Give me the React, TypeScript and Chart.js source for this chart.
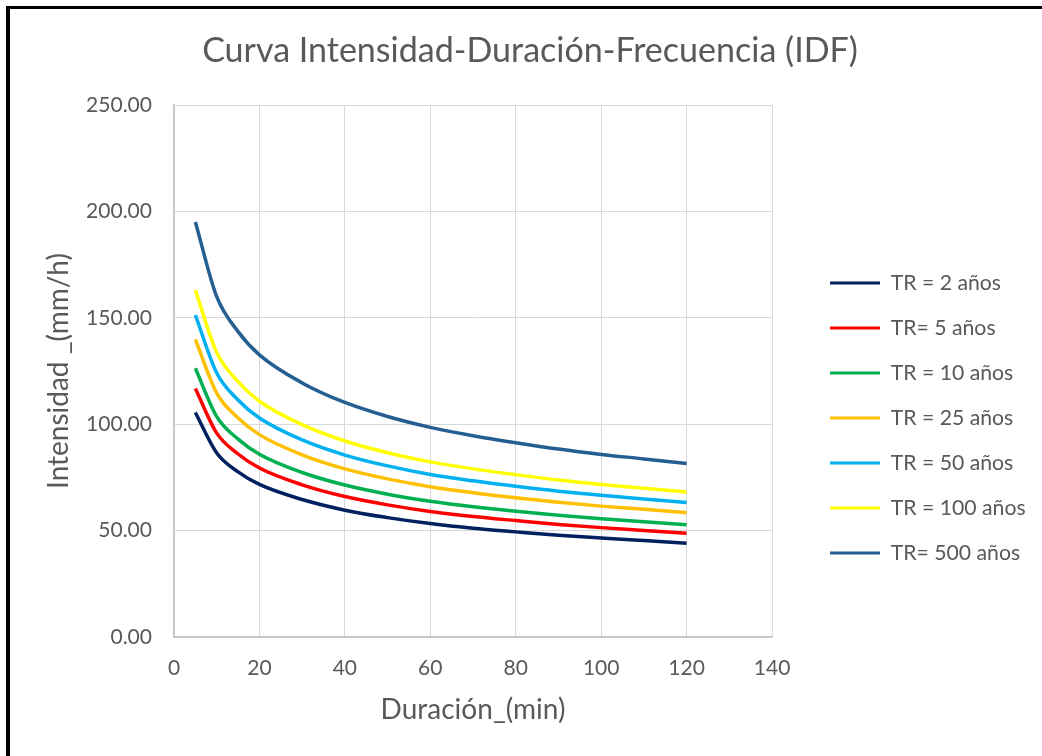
import React, { useEffect, useRef } from 'react';
import { Chart, registerables } from 'chart.js';

Chart.register(...registerables);

// ---- data ----
const durations = [5, 10, 15, 20, 30, 40, 50, 60, 70, 80, 90, 100, 110, 120];
const tr2 = [105.5, 86.5, 77.6, 71.7, 64.6, 59.6, 56.1, 53.3, 51.1, 49.4, 47.8, 46.5, 45.3, 44.1];
const tr5 = [116.8, 95.8, 86.0, 79.4, 71.5, 66.0, 62.1, 59.0, 56.6, 54.7, 52.9, 51.4, 50.1, 48.8];
const tr10 = [126.3, 103.6, 93.0, 85.9, 77.3, 71.4, 67.1, 63.8, 61.2, 59.1, 57.2, 55.6, 54.2, 52.8];
const tr25 = [139.8, 114.6, 102.9, 95.1, 85.6, 79.0, 74.3, 70.6, 67.8, 65.4, 63.3, 61.5, 60.0, 58.4];
const tr50 = [151.3, 124.1, 111.4, 102.9, 92.6, 85.5, 80.4, 76.4, 73.4, 70.8, 68.5, 66.6, 64.9, 63.2];
const tr100 = [163.0, 133.7, 120.0, 110.8, 99.8, 92.1, 86.6, 82.3, 79.0, 76.3, 73.8, 71.7, 69.9, 68.1];
const tr500 = [195.0, 159.9, 143.5, 132.6, 119.4, 110.2, 103.6, 98.5, 94.6, 91.3, 88.3, 85.8, 83.7, 81.5];

const seriesValues = [tr2, tr5, tr10, tr25, tr50, tr100, tr500];
const seriesLabels = ['TR = 2 años', 'TR= 5 años', 'TR = 10 años', 'TR = 25 años', 'TR = 50 años', 'TR = 100 años', 'TR= 500 años'];
const seriesColors = ['#002060', '#FF0000', '#00B050', '#FFC000', '#00B0F0', '#FFFF00', '#255E91'];

const chartTitle = 'Curva Intensidad-Duración-Frecuencia (IDF)';
const xTitle = 'Duración_(min)';
const yTitle = 'Intensidad _(mm/h)';
const xMin = 0, xMax = 140, xStep = 20;
const yMin = 0, yMax = 250, yStep = 50;

// ---- style ----
const W = 1042, H = 756;
const FAMILY = 'Lato';
const TEXT = '#595959';

function fitSize(text: string, target: number): number {
  const ctx = document.createElement('canvas').getContext('2d')!;
  ctx.font = `100px ${FAMILY}`;
  return (100 * target) / ctx.measureText(text).width;
}

const framePlugin = {
  id: 'frame',
  beforeDraw(chart: any) {
    const ctx = chart.ctx;
    ctx.save();
    ctx.fillStyle = '#ffffff';
    ctx.fillRect(0, 0, W, H);
    ctx.fillStyle = '#000000';
    ctx.fillRect(6, 6, 4, H);
    ctx.fillRect(6, 6, W, 3);
    ctx.restore();
  },
};

export default function App() {
  const ref = useRef<HTMLCanvasElement>(null);

  useEffect(() => {
    if (!ref.current) return;
    const fsTitle = fitSize(chartTitle, 656);
    const fsTick = fitSize('250.00', 66);
    const fsLeg = fitSize('TR = 100 años', 135);
    const fsXT = fitSize(xTitle, 185);
    const fsYT = fitSize(yTitle, 236);

    const plotL = 174, plotR = 772, plotT = 105, plotB = 637;
    const legPad = 45 - fsLeg;
    const boxW = 50;
    const legLeft = 830 - legPad;
    const legW = legPad + boxW + fsLeg / 2 + 135 + 10;
    const padR = W - legLeft - legW;
    const padL = 2 * 530 - W + padR;
    const titleTop = 51 - fsTitle * 0.6;

    const chart = new Chart(ref.current, {
      type: 'line',
      data: {
        datasets: seriesValues.map((vals, i) => ({
          label: seriesLabels[i],
          data: durations.map((d, j) => ({ x: d, y: vals[j] })),
          borderColor: seriesColors[i],
          backgroundColor: seriesColors[i],
          borderWidth: 3.5,
          pointRadius: 0,
          cubicInterpolationMode: 'monotone',
          fill: false,
        })),
      },
      options: {
        responsive: false,
        animation: false,
        layout: { padding: { left: padL, right: padR, top: 0, bottom: 0 } },
        plugins: {
          title: {
            display: true,
            text: chartTitle,
            color: TEXT,
            font: { family: FAMILY, size: fsTitle, weight: 'normal' },
            padding: { top: titleTop, bottom: plotT - titleTop - fsTitle * 1.2 },
          },
          legend: {
            position: 'right',
            align: 'center',
            maxWidth: 400,
            title: { display: true, text: '', font: { size: 10 }, padding: { top: 68, bottom: 0 } },
            labels: {
              boxWidth: boxW,
              boxHeight: 3,
              padding: legPad,
              color: TEXT,
              font: { family: FAMILY, size: fsLeg },
              generateLabels: (c: any) =>
                Chart.defaults.plugins.legend.labels.generateLabels(c).map((it: any) => ({
                  ...it,
                  lineWidth: 0,
                  fillStyle: it.strokeStyle,
                })),
            },
          },
          tooltip: { enabled: false },
        },
        scales: {
          x: {
            type: 'linear',
            min: xMin,
            max: xMax,
            ticks: { stepSize: xStep, color: TEXT, font: { family: FAMILY, size: fsTick }, padding: 668 - plotB - fsTick * 0.6 },
            grid: { color: '#d9d9d9', lineWidth: 1, drawTicks: false },
            border: { color: '#c4c4c4', width: 1.5 },
            title: {
              display: true,
              text: xTitle,
              color: TEXT,
              font: { family: FAMILY, size: fsXT },
              padding: { top: 0, bottom: H - 710 - fsXT * 0.6 },
            },
            afterFit: (s: any) => { s.height = H - plotB; },
          },
          y: {
            type: 'linear',
            min: yMin,
            max: yMax,
            ticks: {
              stepSize: yStep,
              color: TEXT,
              font: { family: FAMILY, size: fsTick },
              padding: 22,
              callback: (v: any) => Number(v).toFixed(2),
            },
            grid: { color: '#d9d9d9', lineWidth: 1, drawTicks: false },
            border: { color: '#c4c4c4', width: 1.5 },
            title: {
              display: true,
              text: yTitle,
              color: TEXT,
              font: { family: FAMILY, size: fsYT },
              padding: { top: 58.5 - padL - fsYT * 0.6, bottom: 0 },
            },
            afterFit: (s: any) => { s.width = plotL - padL; },
          },
          yR: {
            type: 'linear',
            axis: 'y',
            position: 'right',
            display: true,
            grid: { display: false, drawTicks: false },
            border: { display: false },
            ticks: { display: false },
            afterFit: (s: any) => { s.width = legLeft - plotR; },
          },
        },
      } as any,
      plugins: [framePlugin],
    });
    return () => chart.destroy();
  }, []);

  return (
    <div style={{ position: 'fixed', left: 0, top: 0, width: W, height: H, overflow: 'hidden', background: '#fff' }}>
      <canvas ref={ref} width={W} height={H} style={{ display: 'block' }} />
    </div>
  );
}
